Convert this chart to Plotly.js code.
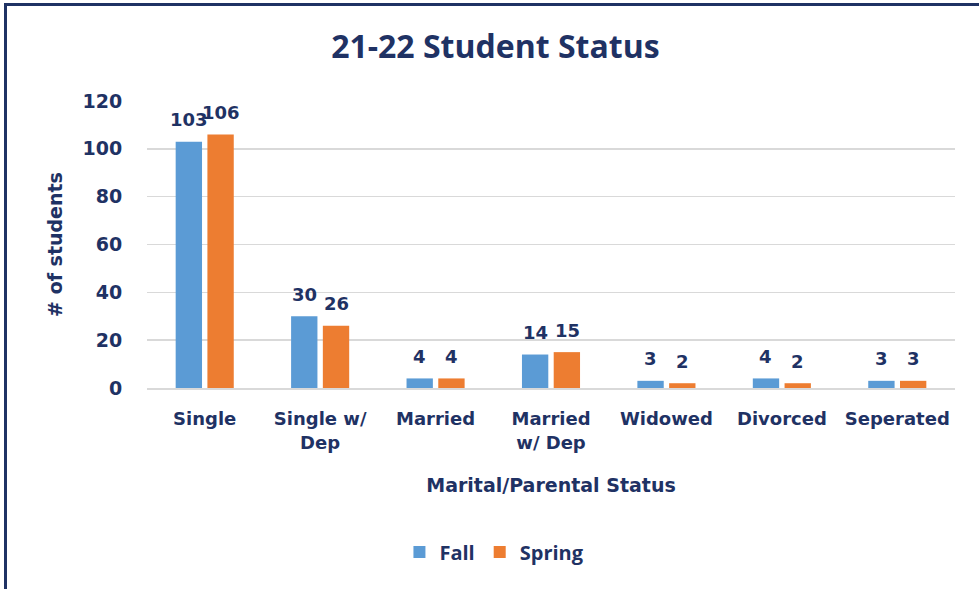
<!DOCTYPE html>
<html><head><meta charset="utf-8">
<script src="https://cdn.plot.ly/plotly-3.0.1.min.js"></script>
<style>
body{margin:0;padding:0;background:#fff;}
#chart{position:absolute;left:0;top:0;width:979px;height:589px;}
#frame{position:absolute;left:4px;top:3px;width:990px;height:600px;border-left:3px solid #1F3264;border-top:3px solid #1F3264;pointer-events:none;}
</style></head>
<body>
<div id="chart"></div>
<div id="frame"></div>
<script>
const categories = ["Single", "Single w/<br>Dep", "Married", "Married<br>w/ Dep", "Widowed", "Divorced", "Seperated"];
const fallValues = [103, 30, 4, 14, 3, 4, 3];
const springValues = [106, 26, 4, 15, 2, 2, 3];
const yTicks = [0, 20, 40, 60, 80, 100, 120];

const navy = "#1F3264";
const xTickFont = {family: "DejaVu Sans", size: 18, color: navy, weight: "bold"};
const yTickFont = {family: "DejaVu Sans", size: 19, color: navy, weight: "bold"};
const labelFont = {family: "DejaVu Sans", size: 18, color: navy, weight: "bold"};

const traces = [
  {type: "bar", name: "Fall", x: categories, y: fallValues, marker: {color: "#5B9BD5"}},
  {type: "bar", name: "Spring", x: categories, y: springValues, marker: {color: "#ED7D31"}}
];

// data labels placed above each bar (from the same arrays)
const annotations = [];
categories.forEach((c, i) => {
  annotations.push({x: c, y: fallValues[i], text: "<b>" + fallValues[i] + "</b>", showarrow: false,
    xref: "x", yref: "y", xshift: -16, yshift: 22, yanchor: "middle", font: labelFont});
  annotations.push({x: c, y: springValues[i], text: "<b>" + springValues[i] + "</b>", showarrow: false,
    xref: "x", yref: "y", xshift: 16, yshift: 22, yanchor: "middle", font: labelFont});
});

const layout = {
  width: 979, height: 589,
  margin: {l: 147, r: 24, t: 101, b: 201},
  paper_bgcolor: "#fff", plot_bgcolor: "#fff",
  title: {text: "<b>21-22 Student Status</b>", x: 0.506, xanchor: "center", y: 0.92, yanchor: "middle",
          font: {family: "Open Sans", size: 32, color: navy}},
  barmode: "group", bargap: 0.45, bargroupgap: 0.17,
  showlegend: true,
  legend: {orientation: "h", xref: "paper", x: 0.43, xanchor: "center", y: -0.571, yanchor: "middle",
           font: {family: "Open Sans", size: 20, color: navy, weight: "bold"}, itemwidth: 30},
  annotations: annotations,
  xaxis: {type: "category", tickfont: xTickFont, showline: true, linecolor: "#D9D9D9", linewidth: 1.5,
          ticks: "outside", ticklen: 14, tickcolor: "rgba(0,0,0,0)", showgrid: false,
          title: {text: "<b>Marital/Parental Status</b>", font: {family: "DejaVu Sans", size: 19, color: navy}, standoff: 27}},
  yaxis: {range: [0, 120], tickvals: yTicks, tickfont: yTickFont, showgrid: true, gridcolor: "#D9D9D9", gridwidth: 1.5,
          zeroline: false, ticks: "outside", ticklen: 20, tickcolor: "rgba(0,0,0,0)",
          title: {text: "<b># of students</b>", font: {family: "DejaVu Sans", size: 19, color: navy}, standoff: 14}}
};

Plotly.newPlot("chart", traces, layout, {displayModeBar: false, staticPlot: true});
</script>
</body></html>
